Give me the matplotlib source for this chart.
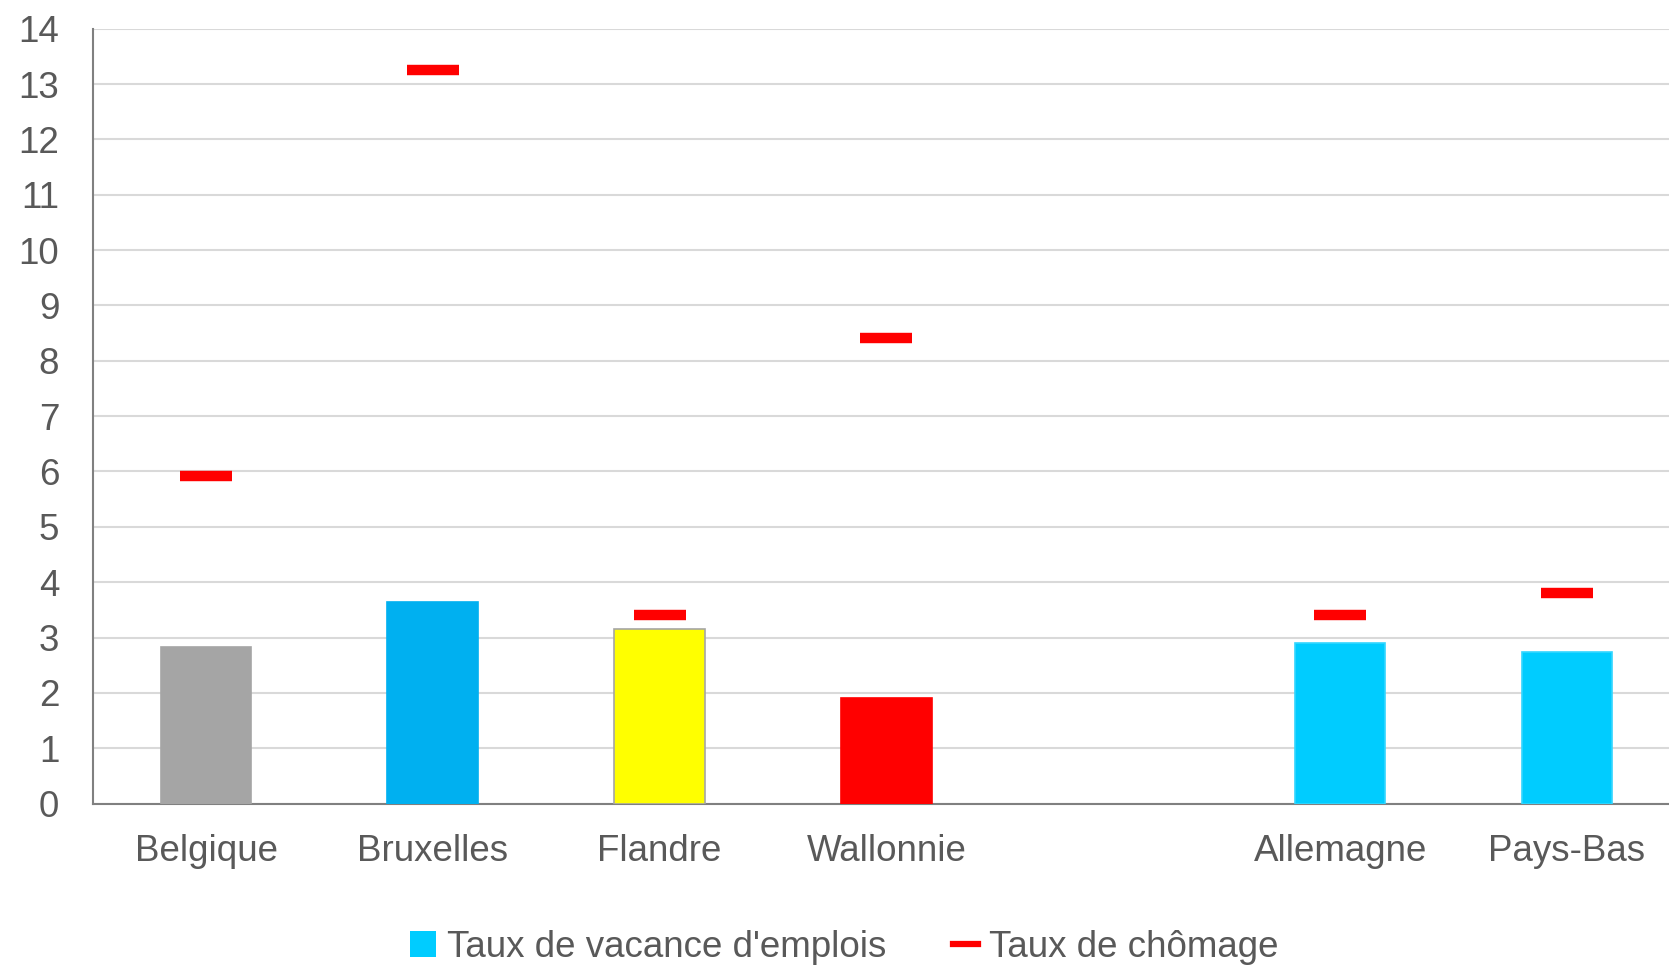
import numpy as np
import matplotlib
matplotlib.use("Agg")
import matplotlib.pyplot as plt
from matplotlib.patches import Patch
from matplotlib.lines import Line2D

plt.rcParams['font.family'] = ['Liberation Sans', 'DejaVu Sans']

# data
categories = ["Belgique", "Bruxelles", "Flandre", "Wallonnie", "", "Allemagne", "Pays-Bas"]
vacancy = [2.83, 3.64, 3.15, 1.90, None, 2.90, 2.73]
unemployment = [5.92, 13.25, 3.40, 8.41, None, 3.40, 3.80]
bar_colors = ["#A5A5A5", "#00B0F0", "#FFFF00", "#FF0000", None, "#00CCFF", "#00CCFF"]
bar_edges = ["#A5A5A5", "#00B0F0", "#A5A5A5", "#FF0000", None, "#33D6FF", "#33D6FF"]
yticks = list(range(0, 15))

txt = "#595959"

fig = plt.figure(figsize=(16.69, 9.65), dpi=100)
ax = fig.add_axes([0.0555, 0.1673, 0.9445, 0.803])

idx = [i for i, v in enumerate(vacancy) if v is not None]
ax.bar(idx, [vacancy[i] for i in idx], width=0.40,
       color=[bar_colors[i] for i in idx],
       edgecolor=[bar_edges[i] for i in idx], linewidth=1.2, zorder=3)

ui = [i for i, v in enumerate(unemployment) if v is not None]
ax.plot(ui, [unemployment[i] for i in ui], linestyle='none', marker='_',
        markersize=37, markeredgewidth=7.5, color="#FF0000", zorder=4)

ax.set_xlim(-0.5, 6.45)
ax.set_ylim(0, 14)
ax.set_yticks(yticks)
ax.set_xticks(range(len(categories)))
ax.set_xticklabels(categories)
ax.yaxis.grid(True, color="#D9D9D9", linewidth=1.5, zorder=0)
ax.set_axisbelow(True)

for s in ["top", "right"]:
    ax.spines[s].set_visible(False)
for s in ["left", "bottom"]:
    ax.spines[s].set_color("#808080")
    ax.spines[s].set_linewidth(1.5)

ax.tick_params(axis='both', length=0, labelsize=26.5, labelcolor=txt)
ax.tick_params(axis='y', pad=24)
ax.tick_params(axis='x', pad=22)

handles = [Patch(facecolor="#00CCFF", edgecolor="none"),
           Line2D([0], [0], color="#FF0000", linewidth=4.5)]
fig.legend(handles, ["Taux de vacance d'emplois", "Taux de chômage"],
           loc='center', bbox_to_anchor=(0.506, 0.018), ncol=2, frameon=False,
           fontsize=26.5, labelcolor=txt, handlelength=0.7, handleheight=0.7,
           handletextpad=0.3, columnspacing=1.8)

fig.savefig("out.png", dpi=100)
